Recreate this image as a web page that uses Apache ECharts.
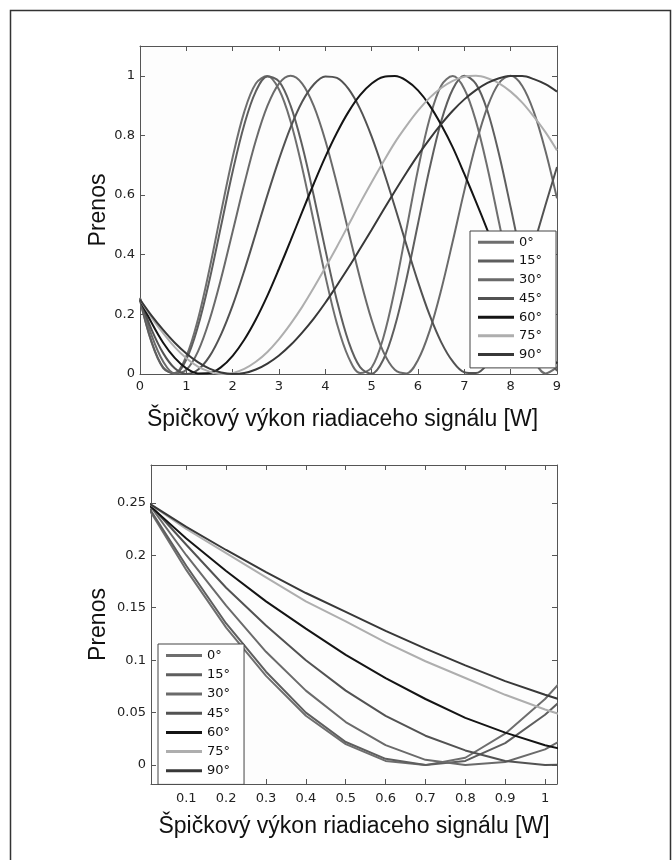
<!DOCTYPE html>
<html>
<head>
<meta charset="utf-8">
<script src="https://cdn.jsdelivr.net/npm/echarts@6/dist/echarts.min.js"></script>
<style>
html,body{margin:0;padding:0;background:#fff;}
#c{width:672px;height:860px;}
</style>
</head>
<body>
<div id="c"></div>
<script>
// ---------- data ----------
const seriesNames = ['0°','15°','30°','45°','60°','75°','90°'];
const seriesColors = ['#6e6e6e','#5e5e5e','#6a6a6a','#525252','#141414','#aeaeae','#383838'];

// top chart: x = peak power [W]
const topX = [0,0.25,0.5,0.75,1,1.25,1.5,1.75,2,2.25,2.5,2.75,3,3.25,3.5,3.75,4,4.25,4.5,4.75,5,5.25,5.5,5.75,6,6.25,6.5,6.75,7,7.25,7.5,7.75,8,8.25,8.5,8.75,9];
const top0  = [0.250,0.106,0.020,0.003,0.060,0.183,0.352,0.543,0.727,0.879,0.974,0.999,0.954,0.847,0.692,0.511,0.329,0.169,0.056,0.003,0.022,0.121,0.284,0.484,0.686,0.856,0.967,0.999,0.956,0.848,0.691,0.507,0.323,0.163,0.051,0.002,0.023];
const top15 = [0.248,0.108,0.022,0.001,0.049,0.159,0.315,0.497,0.679,0.836,0.948,0.998,0.981,0.900,0.766,0.598,0.417,0.246,0.109,0.023,0.001,0.048,0.159,0.318,0.504,0.689,0.847,0.955,1.000,0.973,0.882,0.736,0.559,0.374,0.206,0.079,0.010];
const top30 = [0.256,0.130,0.042,0.002,0.014,0.075,0.181,0.320,0.478,0.637,0.783,0.899,0.974,1.000,0.974,0.899,0.783,0.637,0.478,0.320,0.181,0.075,0.014,0.002,0.047,0.144,0.282,0.445,0.615,0.771,0.896,0.976,1.000,0.966,0.879,0.749,0.589];
const top45 = [0.250,0.149,0.070,0.019,0.000,0.014,0.059,0.133,0.230,0.346,0.472,0.600,0.720,0.827,0.913,0.971,0.998,0.993,0.956,0.889,0.796,0.684,0.561,0.433,0.309,0.198,0.107,0.042,0.006,0.003,0.034,0.099,0.191,0.306,0.434,0.566,0.694];
const top60 = [0.250,0.172,0.105,0.054,0.019,0.002,0.003,0.023,0.061,0.115,0.183,0.263,0.353,0.447,0.544,0.638,0.728,0.809,0.879,0.935,0.974,0.996,0.999,0.984,0.951,0.901,0.836,0.760,0.671,0.578,0.482,0.386,0.294,0.211,0.138,0.079,0.035];
const top75 = [0.250,0.189,0.137,0.090,0.053,0.025,0.008,0.000,0.003,0.017,0.041,0.074,0.117,0.168,0.225,0.289,0.357,0.427,0.500,0.573,0.643,0.711,0.776,0.832,0.883,0.926,0.959,0.983,0.997,1.000,0.992,0.975,0.947,0.910,0.863,0.811,0.750];
const top90 = [0.250,0.196,0.148,0.105,0.069,0.040,0.018,0.005,0.000,0.003,0.015,0.035,0.062,0.097,0.139,0.186,0.239,0.297,0.357,0.420,0.484,0.549,0.613,0.675,0.734,0.788,0.838,0.883,0.921,0.952,0.976,0.992,0.999,0.999,0.989,0.972,0.947];

// bottom chart (zoom of low power)
const botX  = [0,0.1,0.2,0.3,0.4,0.5,0.6,0.7,0.8,0.9,1.0,1.1];
const bot0  = [0.248,0.186,0.131,0.085,0.047,0.020,0.004,0.000,0.007,0.030,0.063,0.105];
const bot15 = [0.249,0.190,0.135,0.089,0.050,0.022,0.006,0.000,0.004,0.021,0.048,0.082];
const bot30 = [0.252,0.200,0.152,0.108,0.071,0.041,0.019,0.005,0.000,0.003,0.015,0.036];
const bot45 = [0.252,0.210,0.169,0.133,0.100,0.071,0.047,0.028,0.014,0.004,0.000,0.001];
const bot60 = [0.250,0.216,0.185,0.156,0.130,0.105,0.083,0.063,0.045,0.031,0.019,0.010];
const bot75 = [0.251,0.225,0.202,0.179,0.156,0.137,0.117,0.099,0.083,0.067,0.053,0.041];
const bot90 = [0.251,0.227,0.205,0.184,0.164,0.146,0.128,0.111,0.095,0.080,0.067,0.055];

// tick labels
const topXTicks = [0,1,2,3,4,5,6,7,8,9];
const topYTicks = [0,0.2,0.4,0.6,0.8,1];
const botXTicks = [0.1,0.2,0.3,0.4,0.5,0.6,0.7,0.8,0.9,1];
const botYTicks = [0,0.05,0.1,0.15,0.2,0.25];

const xTitle = 'Špičkový výkon riadiaceho signálu [W]';
const yTitle = 'Prenos';

// ---------- chart ----------
const topSets = [top0,top15,top30,top45,top60,top75,top90];
const botSets = [bot0,bot15,bot30,bot45,bot60,bot75,bot90];

const tickFont = {fontFamily:'DejaVu Sans', fontSize:13, color:'#222'};
const axisLineStyle = {color:'#555', width:1};

function mkAxis(gridIndex, position, min, max, ticks, showLabels, extra) {
  return Object.assign({
    type:'value', gridIndex, position, min, max,
    axisLine:{show:true, onZero:false, lineStyle:axisLineStyle},
    axisTick:{show:true, inside:true, length:5, customValues:ticks, lineStyle:{color:'#555'}},
    axisLabel:Object.assign({show:showLabels, customValues:ticks}, tickFont),
    splitLine:{show:false}
  }, extra || {});
}

const nameStyle = {fontFamily:'Liberation Sans', fontSize:23, color:'#111'};

const series = [];
seriesNames.forEach((n,k)=>{
  series.push({
    type:'line', name:n, xAxisIndex:0, yAxisIndex:0,
    data: topX.map((x,i)=>[x, topSets[k][i]]),
    smooth:0.35, symbol:'none', clip:true,
    lineStyle:{color:seriesColors[k], width:2},
    itemStyle:{color:seriesColors[k]}
  });
});
seriesNames.forEach((n,k)=>{
  series.push({
    type:'line', name:n, xAxisIndex:2, yAxisIndex:2,
    data: botX.map((x,i)=>[x, botSets[k][i]]),
    smooth:false, symbol:'none', clip:true,
    lineStyle:{color:seriesColors[k], width:2},
    itemStyle:{color:seriesColors[k]}
  });
});

function mkLegend(left, top, lh) {
  return {
    show:true, orient:'vertical', left, top,
    data: seriesNames.map((n,k)=>({name:n, icon:'rect', itemStyle:{color:seriesColors[k]}})),
    itemWidth:36, itemHeight:3, itemGap:0,
    padding:[2,14,4,8],
    backgroundColor:'#fff', borderColor:'#444', borderWidth:1,
    textStyle:{fontFamily:'DejaVu Sans', fontSize:13, color:'#111', lineHeight:lh},
    selectedMode:false
  };
}

const option = {
  animation:false,
  backgroundColor:'#ffffff',
  graphic:[{type:'rect', silent:true, shape:{x:10.5,y:10.5,width:660,height:900}, style:{fill:'none', stroke:'#333', lineWidth:1.5}}],
  grid:[
    {left:140, top:46, width:417, height:328, show:true, backgroundColor:'#fdfdfd', borderWidth:0},
    {left:151, top:465, width:406, height:319, show:true, backgroundColor:'#fdfdfd', borderWidth:0}
  ],
  xAxis:[
    mkAxis(0,'bottom',0,9,topXTicks,true,{axisLabel:Object.assign({customValues:topXTicks, margin:6}, tickFont),
      name:xTitle, nameLocation:'middle', nameGap:34, nameMoveOverlap:false, nameTextStyle:Object.assign({padding:[0,12,0,0]}, nameStyle)}),
    mkAxis(0,'top',0,9,topXTicks,false),
    mkAxis(1,'bottom',0.0115,1.03,botXTicks,true,{axisLabel:Object.assign({customValues:botXTicks, margin:8}, tickFont),
      name:xTitle, nameLocation:'middle', nameGap:31, nameMoveOverlap:false, nameTextStyle:nameStyle}),
    mkAxis(1,'top',0.0115,1.03,botXTicks,false)
  ],
  yAxis:[
    mkAxis(0,'left',0,1.1,topYTicks,true,{axisLabel:Object.assign({customValues:topYTicks, margin:5}, tickFont),
      name:yTitle, nameLocation:'middle', nameRotate:90, nameGap:30, nameMoveOverlap:false, nameTextStyle:nameStyle}),
    mkAxis(0,'right',0,1.1,topYTicks,false),
    mkAxis(1,'left',-0.018,0.286,botYTicks,true,{axisLabel:Object.assign({customValues:botYTicks, margin:5}, tickFont),
      name:yTitle, nameLocation:'middle', nameRotate:90, nameGap:41, nameMoveOverlap:false, nameTextStyle:nameStyle}),
    mkAxis(1,'right',-0.018,0.286,botYTicks,false)
  ],
  legend:[ mkLegend(470, 231, 18.7), mkLegend(158, 644, 19.2) ],
  series
};

const chart = echarts.init(document.getElementById('c'), null, {renderer:'canvas'});
chart.setOption(option);
</script>
</body>
</html>
